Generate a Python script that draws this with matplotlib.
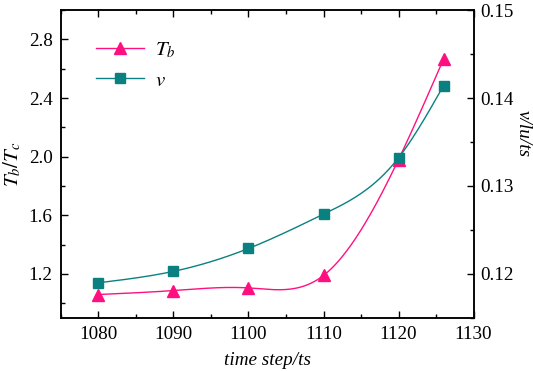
import numpy as np
import matplotlib
matplotlib.use("Agg")
import matplotlib.pyplot as plt
from matplotlib.lines import Line2D
from matplotlib.ticker import MultipleLocator

time_step = [1080, 1090, 1100, 1110, 1120, 1126]
tb_ratio = [1.06, 1.087, 1.105, 1.19, 1.98, 2.665]
velocity = [0.1190, 0.1203, 0.1229, 0.1268, 0.1332, 0.1414]

PINK = "#FF1080"
TEAL = "#0B8080"


def natural_spline(x, y, n=300):
    # natural cubic spline through the points, for the smooth curve only
    x = np.asarray(x, float)
    y = np.asarray(y, float)
    k = len(x)
    h = np.diff(x)
    A = np.zeros((k, k))
    b = np.zeros(k)
    A[0, 0] = A[-1, -1] = 1.0
    for i in range(1, k - 1):
        A[i, i - 1] = h[i - 1]
        A[i, i] = 2 * (h[i - 1] + h[i])
        A[i, i + 1] = h[i]
        b[i] = 6 * ((y[i + 1] - y[i]) / h[i] - (y[i] - y[i - 1]) / h[i - 1])
    M = np.linalg.solve(A, b)
    xs = np.linspace(x[0], x[-1], n)
    idx = np.clip(np.searchsorted(x, xs) - 1, 0, k - 2)
    x0, x1 = x[idx], x[idx + 1]
    hh = x1 - x0
    t0, t1 = x1 - xs, xs - x0
    ys = (M[idx] * t0**3 / (6 * hh) + M[idx + 1] * t1**3 / (6 * hh)
          + (y[idx] / hh - M[idx] * hh / 6) * t0
          + (y[idx + 1] / hh - M[idx + 1] * hh / 6) * t1)
    return xs, ys


plt.rcParams["font.family"] = "Liberation Serif"
plt.rcParams["mathtext.fontset"] = "stix"
plt.rcParams["font.size"] = 13.8

fig, ax = plt.subplots(figsize=(5.33, 3.71), dpi=100)
fig.subplots_adjust(left=0.1144, right=0.8884, top=0.973, bottom=0.1429)
ax2 = ax.twinx()

xs, ys = natural_spline(time_step, tb_ratio)
ax.plot(xs, ys, color=PINK, lw=1.0, zorder=2)
ax.plot(time_step, tb_ratio, ls="none", marker="^", ms=8.8, color=PINK, zorder=3)

xs, ys = natural_spline(time_step, velocity)
ax2.plot(xs, ys, color=TEAL, lw=1.0, zorder=2)
ax2.plot(time_step, velocity, ls="none", marker="s", ms=6.5, color=TEAL, zorder=3)

ax.set_xlim(1075, 1130)
ax.set_ylim(0.9, 3.0)
ax2.set_ylim(0.115, 0.15)
ax.xaxis.set_major_locator(MultipleLocator(10))
ax.xaxis.set_minor_locator(MultipleLocator(5))
ax.set_yticks([1.2, 1.6, 2.0, 2.4, 2.8])
ax.yaxis.set_minor_locator(MultipleLocator(0.2))
ax2.set_yticks([0.12, 0.13, 0.14, 0.15])
ax2.yaxis.set_minor_locator(MultipleLocator(0.005))

ax.tick_params(which="both", direction="in", top=True, right=False, width=1.0)
ax.tick_params(which="major", length=5)
ax.tick_params(which="minor", length=3)
ax.tick_params(axis="y", pad=6)
ax.tick_params(axis="x", pad=6)
ax2.tick_params(which="both", direction="in", width=1.0, pad=5)
ax2.tick_params(which="major", length=5)
ax2.tick_params(which="minor", length=3)
for a in (ax, ax2):
    for s in a.spines.values():
        s.set_linewidth(1.1)

ax.set_xlabel("time step/ts", fontstyle="italic", labelpad=6)
ax.set_ylabel(r"$T_b/T_c$", fontsize=15)
ax.yaxis.set_label_coords(-0.092, 0.5)
ax2.set_ylabel("v/lu/ts", fontstyle="italic", rotation=270, va="center")
ax2.yaxis.set_label_coords(1.12, 0.6)

handles = [
    Line2D([], [], color=PINK, lw=1.0, marker="^", ms=8.8),
    Line2D([], [], color=TEAL, lw=1.0, marker="s", ms=6.5),
]
ax2.legend(handles, [r"$T_b$", r"$v$"], loc="upper left",
           bbox_to_anchor=(0.04, 0.96), frameon=False, fontsize=15,
           handlelength=2.3, handletextpad=0.5, labelspacing=0.5)

fig.savefig("out.png", dpi=100)
